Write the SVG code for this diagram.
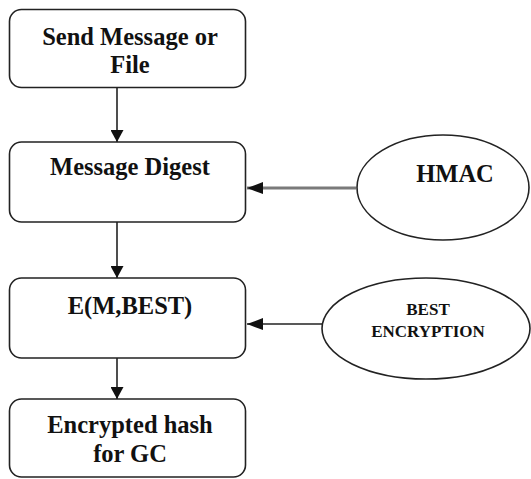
<svg xmlns="http://www.w3.org/2000/svg" width="531" height="479" viewBox="0 0 531 479">
<defs>
<style>
.box{fill:#fff;stroke:#222;stroke-width:1.6}
.ell{fill:#fff;stroke:#222;stroke-width:1.6}
.t{font-family:"Liberation Serif","Times New Roman",serif;font-weight:bold;font-size:24.5px;fill:#111;text-anchor:middle}
.ts{font-family:"Liberation Serif","Times New Roman",serif;font-weight:bold;font-size:17px;fill:#111;text-anchor:middle}
.c{stroke:#222;stroke-width:1.6;fill:none}
</style>
<marker id="ah" viewBox="0 0 12 13" refX="12" refY="6.5" markerWidth="12" markerHeight="13" markerUnits="userSpaceOnUse" orient="auto">
<path d="M0,0 L12,6.5 L0,13 Z" fill="#111"/>
</marker>
<marker id="ah2" viewBox="0 0 16 12" refX="16" refY="6" markerWidth="16" markerHeight="12" markerUnits="userSpaceOnUse" orient="auto">
<path d="M0,0 L16,6 L0,12 Z" fill="#111"/>
</marker>
</defs>
<rect width="531" height="479" fill="#fff"/>
<g id="connectors">
<line class="c" x1="117" y1="88" x2="117" y2="142" marker-end="url(#ah)"/>
<line class="c" x1="117" y1="222" x2="117" y2="278" marker-end="url(#ah)"/>
<line class="c" x1="117" y1="358" x2="117" y2="399" marker-end="url(#ah)"/>
<line x1="356" y1="188" x2="247" y2="188" stroke="#7a7a7a" stroke-width="3" marker-end="url(#ah2)"/>
<line class="c" x1="323" y1="324" x2="247" y2="324" marker-end="url(#ah2)"/>
</g>
<g id="send">
<rect class="box" x="9.5" y="9.5" width="236" height="78" rx="12"/>
<text class="t" x="130" y="45">Send Message or</text>
<text class="t" x="130" y="73">File</text>
</g>
<g id="digest">
<rect class="box" x="9.5" y="142" width="236" height="80" rx="12"/>
<text class="t" x="130" y="175">Message Digest</text>
</g>
<g id="enc">
<rect class="box" x="9.5" y="278" width="236" height="80" rx="12"/>
<text class="t" x="130" y="314">E(M,BEST)</text>
</g>
<g id="hash">
<rect class="box" x="9.5" y="399" width="236" height="78" rx="12"/>
<text class="t" x="130" y="433">Encrypted hash</text>
<text class="t" x="130" y="462">for GC</text>
</g>
<g id="hmac">
<ellipse class="ell" cx="443" cy="187.5" rx="86" ry="52.5"/>
<text class="t" x="455" y="182">HMAC</text>
</g>
<g id="best">
<ellipse class="ell" cx="426" cy="328.5" rx="104" ry="50.5"/>
<text class="ts" x="428" y="315">BEST</text>
<text class="ts" x="428" y="337">ENCRYPTION</text>
</g>
</svg>
